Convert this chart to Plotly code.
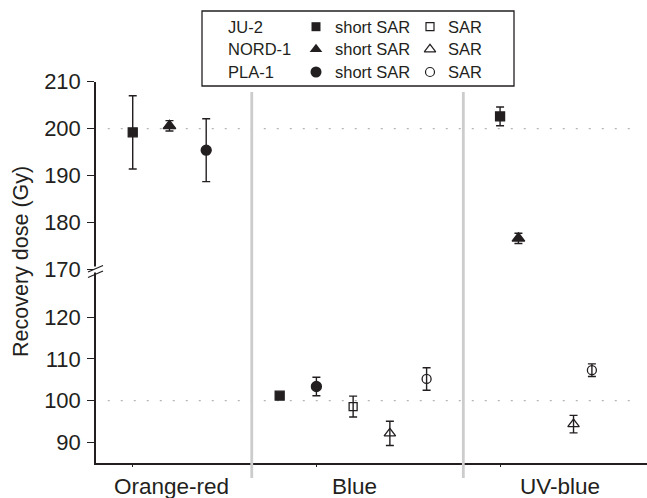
import plotly.graph_objects as go

# ---------------- data ----------------
categories = ["Orange-red", "Blue", "UV-blue"]
samples = ["JU-2", "NORD-1", "PLA-1"]
protocols = ["short SAR", "SAR"]

# recovery dose (Gy) per category [Orange-red, Blue, UV-blue]; None = not measured
ju2_short = [199.2, 101.2, 202.6]
ju2_short_err = [7.8, 0.5, 2.0]
nord1_short = [200.6, None, 176.6]
nord1_short_err = [1.1, None, 1.1]
pla1_short = [195.4, 103.4, None]
pla1_short_err = [6.7, 2.2, None]
ju2_sar = [None, 98.6, None]
ju2_sar_err = [None, 2.5, None]
nord1_sar = [None, 92.2, 94.4]
nord1_sar_err = [None, 2.9, 2.1]
pla1_sar = [None, 105.2, 107.3]
pla1_sar_err = [None, 2.7, 1.5]

given_dose_low = 100
given_dose_high = 200
ytick_low = [90, 100, 110, 120]
ytick_high = [170, 180, 190, 200, 210]

# ---------------- layout helpers (pixels) ----------------
W, H = 647, 498
def fx(px):
    return px / W
def fy(py):
    return (H - py) / H

INK = "#231f20"
FONT = "Liberation Sans, Arial, sans-serif"

# x positions of ticks, labels and series inside each category group (layout, not data)
cat_tick = {"Orange-red": 0, "Blue": 5, "UV-blue": 10}
cat_label_x = {"Orange-red": 1.06, "Blue": 6.03, "UV-blue": 11.63}
pos = {
    ("JU-2", "short SAR"): [0, 4, 10],
    ("NORD-1", "short SAR"): [1, None, 10.5],
    ("PLA-1", "short SAR"): [2, 5, None],
    ("JU-2", "SAR"): [None, 6, None],
    ("NORD-1", "SAR"): [None, 7, 12],
    ("PLA-1", "SAR"): [None, 8, 12.5],
}
series = [
    ("JU-2", "short SAR", ju2_short, ju2_short_err, "square", 9),
    ("NORD-1", "short SAR", nord1_short, nord1_short_err, "triangle-up", 11),
    ("PLA-1", "short SAR", pla1_short, pla1_short_err, "circle", 10),
    ("JU-2", "SAR", ju2_sar, ju2_sar_err, "square-open", 8),
    ("NORD-1", "SAR", nord1_sar, nord1_sar_err, "triangle-up-open", 10),
    ("PLA-1", "SAR", pla1_sar, pla1_sar_err, "circle-open", 9),
]

fig = go.Figure()
for samp, prot, vals, errs, sym, size in series:
    xs = pos[(samp, prot)]
    for axis_name, test in (("y", lambda v: v < 150), ("y2", lambda v: v >= 150)):
        px_, py_, pe_ = [], [], []
        for x, v, e in zip(xs, vals, errs):
            if v is not None and test(v):
                px_.append(x); py_.append(v); pe_.append(e)
        if not py_:
            continue
        fig.add_trace(go.Scatter(
            x=px_, y=py_, yaxis=axis_name, xaxis="x", mode="markers",
            name=f"{samp} {prot}", showlegend=False,
            marker=dict(symbol=sym, size=size, color=INK,
                        line=dict(color=INK, width=1.3)),
            error_y=dict(type="data", array=pe_, visible=True,
                         color=INK, thickness=1.4, width=4),
            cliponaxis=False,
        ))

# ---------------- legend (custom, drawn on a hidden full-figure axis) ----------------
leg_rows = [26.7, 49.3, 72.0]
leg_filled = ["square", "triangle-up", "circle"]
leg_open = ["square-open", "triangle-up-open", "circle-open"]
leg_fill_sizes = [9, 11, 11]
leg_open_sizes = [8, 10, 9]
for i, s in enumerate(samples):
    fig.add_trace(go.Scatter(
        x=[316], y=[leg_rows[i]], xaxis="x3", yaxis="y3", mode="markers",
        showlegend=False, hoverinfo="skip",
        marker=dict(symbol=leg_filled[i], size=leg_fill_sizes[i], color=INK)))
    fig.add_trace(go.Scatter(
        x=[430], y=[leg_rows[i]], xaxis="x3", yaxis="y3", mode="markers",
        showlegend=False, hoverinfo="skip",
        marker=dict(symbol=leg_open[i], size=leg_open_sizes[i], color=INK,
                    line=dict(color=INK, width=1.2))))

annotations = []
for i, s in enumerate(samples):
    annotations.append(dict(x=226, y=leg_rows[i], xref="x3", yref="y3", text=s,
                            showarrow=False, xanchor="left", yanchor="middle",
                            font=dict(size=16.5, color=INK, family=FONT)))
    annotations.append(dict(x=333, y=leg_rows[i], xref="x3", yref="y3", text=protocols[0],
                            showarrow=False, xanchor="left", yanchor="middle",
                            font=dict(size=16.5, color=INK, family=FONT)))
    annotations.append(dict(x=446, y=leg_rows[i], xref="x3", yref="y3", text=protocols[1],
                            showarrow=False, xanchor="left", yanchor="middle",
                            font=dict(size=16.5, color=INK, family=FONT)))

# category labels (placed under each group, offset from the ticks as in the original)
for c in categories:
    annotations.append(dict(x=cat_label_x[c], y=fy(486), xref="x", yref="paper",
                            text=c, showarrow=False, xanchor="center", yanchor="middle",
                            font=dict(size=22.5, color=INK, family=FONT)))

# y-axis title
annotations.append(dict(x=fx(21), y=fy(262), xref="paper", yref="paper",
                        text="Recovery dose (Gy)", textangle=-90, showarrow=False,
                        xanchor="center", yanchor="middle",
                        font=dict(size=21.5, color=INK, family=FONT)))

shapes = [
    # legend box
    dict(type="rect", xref="x3", yref="y3", x0=202, x1=514, y0=11, y1=86,
         line=dict(color=INK, width=1.3), fillcolor="rgba(0,0,0,0)", layer="above"),
    # group separators
    dict(type="line", xref="x", yref="paper", x0=3.24, x1=3.24, y0=fy(478), y1=fy(92),
         line=dict(color="#cccccc", width=2.8), layer="above"),
    dict(type="line", xref="x", yref="paper", x0=9.0, x1=9.0, y0=fy(478), y1=fy(92),
         line=dict(color="#cccccc", width=2.8), layer="above"),
    # reference (given dose) lines
    dict(type="line", xref="x", yref="y", x0=-0.68, x1=13.7, y0=given_dose_low, y1=given_dose_low,
         line=dict(color="#b5b5b5", width=1.3, dash="2px,11px"), layer="below"),
    dict(type="line", xref="x", yref="y2", x0=-0.68, x1=13.7, y0=given_dose_high, y1=given_dose_high,
         line=dict(color="#b5b5b5", width=1.3, dash="2px,11px"), layer="below"),
    # axis break marks
    dict(type="rect", xref="x3", yref="y3", x0=94, x1=98, y0=266.5, y1=272.5,
         line=dict(width=0), fillcolor="white", layer="above"),
    dict(type="line", xref="x3", yref="y3", x0=88, x1=103, y0=272, y1=265.5,
         line=dict(color=INK, width=1.3), layer="above"),
    dict(type="line", xref="x3", yref="y3", x0=88, x1=103, y0=277.5, y1=271,
         line=dict(color=INK, width=1.3), layer="above"),
]

XD = [fx(96), 1.0]
fig.update_layout(
    width=W, height=H,
    margin=dict(l=0, r=0, t=0, b=0),
    paper_bgcolor="white", plot_bgcolor="rgba(0,0,0,0)",
    font=dict(family=FONT, color=INK, size=20),
    showlegend=False,
    xaxis=dict(domain=XD, range=[-1, 14], showgrid=False, zeroline=False,
               showline=True, linecolor=INK, linewidth=1.5,
               tickmode="array", tickvals=[cat_tick[c] for c in categories],
               showticklabels=False, ticks="outside", ticklen=2, tickwidth=1.2,
               tickcolor=INK, anchor="y", automargin=False),
    yaxis=dict(domain=[fy(463), fy(269.3)], range=[85.1, 131.43],
               showgrid=False, zeroline=False, showline=True, linecolor=INK,
               linewidth=1.5, tickmode="array", tickvals=ytick_low,
               ticks="outside", ticklen=7, tickwidth=1.2, tickcolor=INK,
               ticklabelstandoff=2,
               tickfont=dict(size=22, color=INK, family=FONT),
               anchor="x", automargin=False),
    yaxis2=dict(domain=[fy(269.3), fy(81.7)], range=[170, 210],
                showgrid=False, zeroline=False, showline=True, linecolor=INK,
                linewidth=1.5, tickmode="array", tickvals=ytick_high,
                ticks="outside", ticklen=7, tickwidth=1.2, tickcolor=INK,
                ticklabelstandoff=2,
                tickfont=dict(size=22, color=INK, family=FONT),
                anchor="x", automargin=False),
    xaxis3=dict(domain=[0, 1], range=[0, W], visible=False, anchor="y3",
                fixedrange=True),
    yaxis3=dict(domain=[0, 1], range=[H, 0], visible=False, anchor="x3",
                fixedrange=True),
    annotations=annotations,
    shapes=shapes,
)

fig.write_html("out.html", config={"displayModeBar": False},
               post_script="document.body.style.margin='0';document.body.style.padding='0';")
